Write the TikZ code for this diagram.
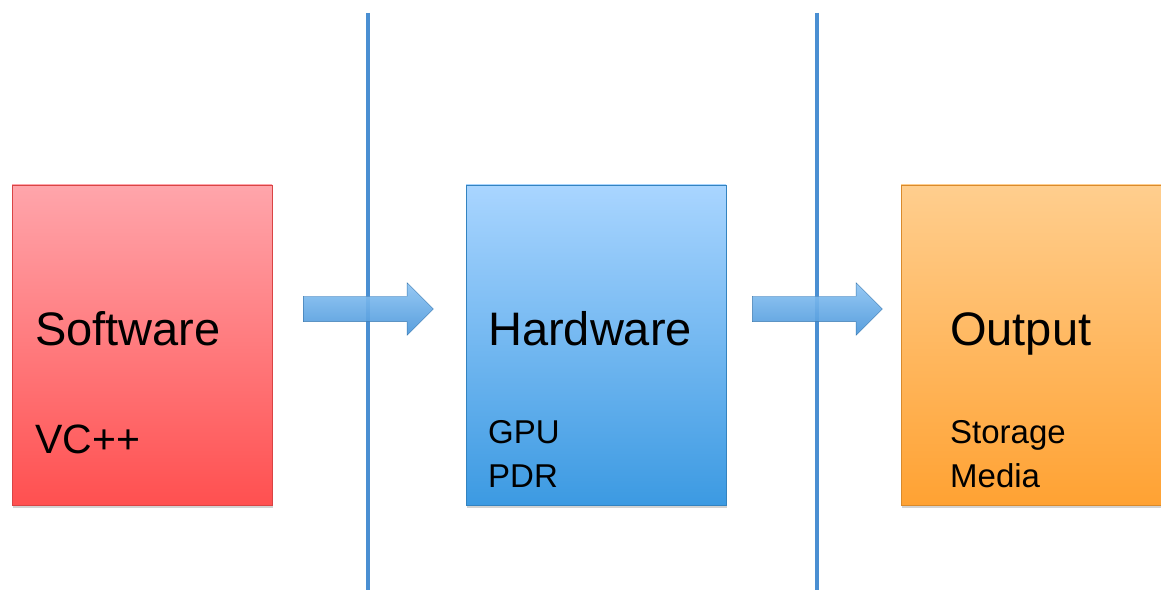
\documentclass[tikz,border=0pt]{standalone}
\usepackage{fontspec}
\setmainfont{Liberation Sans}
\usetikzlibrary{shapes.arrows,shadows}

\definecolor{redtop}{HTML}{FFA5AB}
\definecolor{redbot}{HTML}{FF5050}
\definecolor{bluetop}{HTML}{A9D5FF}
\definecolor{bluebot}{HTML}{3C9AE2}
\definecolor{orgtop}{HTML}{FFCE8E}
\definecolor{orgbot}{HTML}{FFA233}
\definecolor{arrtop}{HTML}{8DC4F3}
\definecolor{arrbot}{HTML}{4A96DA}
\definecolor{lineblue}{HTML}{4A8FD2}

\begin{document}
\begin{tikzpicture}[x=1pt,y=-1pt,
 box/.style={rectangle,minimum width=260pt,minimum height=320pt,inner sep=0pt,
 drop shadow={shadow xshift=1pt,shadow yshift=-3pt,opacity=0.35}},
 title/.style={anchor=base west,inner sep=0pt,font=\fontsize{47}{56}\selectfont},
 sub/.style={anchor=base west,inner sep=0pt,font=\fontsize{33}{40}\selectfont},
 flow/.style={single arrow,single arrow head extend=13.5pt,inner xsep=0pt,inner ysep=12.5pt,
 minimum height=130pt,top color=arrtop,bottom color=arrbot,
 draw=arrbot!80!black,line width=0.4pt,fill opacity=0.92},
 divider/.style={draw=lineblue,line width=4pt}]
 \useasboundingbox (0,0) rectangle (1161,593);

 % 3 boxes
 \node[box,top color=redtop,bottom color=redbot,draw=redbot!85!black] (sw) at (142,345) {};
 \node[box,top color=bluetop,bottom color=bluebot,draw=bluebot!85!black] (hw) at (596,345) {};
 \node[box,top color=orgtop,bottom color=orgbot,draw=orgbot!85!black] (out) at (1031,345) {};

 % texts
 \node[title] (swt) at (35,345) {Software};
 \node[title,font=\fontsize{41}{48}\selectfont] (vc) at (35,453) {VC++};
 \node[title] (hwt) at (488,345) {Hardware};
 \node[sub] (gpu) at (488,443) {GPU};
 \node[sub] (pdr) at (488,487) {PDR};
 \node[title] (outt) at (950,345) {Output};
 \node[sub] (sto) at (950,443) {Storage};
 \node[sub] (med) at (950,487) {Media};

 % dividers
 \coordinate (d1t) at (368,13);
 \coordinate (d1b) at (368,590);
 \coordinate (d2t) at (817,13);
 \coordinate (d2b) at (817,590);
 \draw[divider] (d1t) -- (d1b);
 \draw[divider] (d2t) -- (d2b);

 % arrows between the boxes
 \node[flow] (a1) at (362,309) {};
 \node[flow] (a2) at (811,309) {};
\end{tikzpicture}
\end{document}
